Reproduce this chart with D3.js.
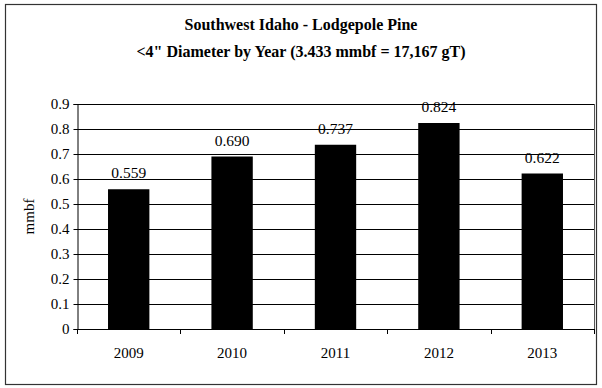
<!DOCTYPE html>
<html><head><meta charset="utf-8">
<script src="https://cdn.jsdelivr.net/npm/d3@7"></script>
<style>body{margin:0;background:#fff}svg{display:block}text{font-family:"Liberation Serif","Times New Roman",serif;fill:#000}</style>
</head><body>
<script>
const years = ["2009","2010","2011","2012","2013"];
const values = [0.559,0.690,0.737,0.824,0.622];
const yTicks = [0,0.1,0.2,0.3,0.4,0.5,0.6,0.7,0.8,0.9];
const titleLines = ["Southwest Idaho - Lodgepole Pine", "<4\" Diameter by Year (3.433 mmbf = 17,167 gT)"];
const yLabel = "mmbf";

const W=602,H=388;
const FF="Liberation Serif";
const svg=d3.select("body").append("svg").attr("width",W).attr("height",H);
svg.append("rect").attr("x",5.5).attr("y",4.5).attr("width",591).attr("height",380)
  .attr("fill","#fff").attr("stroke","#333").attr("stroke-width",1.2);

const L=77,R=594,T=104,B=329;
const x=d3.scaleBand().domain(years).range([L,R]).paddingInner(0.6).paddingOuter(0.3);
const xb=d3.scaleBand().domain(years).range([L,R]);
const y=d3.scaleLinear().domain([0,0.9]).range([B,T]);

// gridlines
svg.append("g").selectAll("line").data(yTicks.filter(d=>d>0)).join("line")
  .attr("x1",L).attr("x2",R).attr("y1",d=>Math.round(y(d))+0.5).attr("y2",d=>Math.round(y(d))+0.5)
  .attr("stroke","#000").attr("stroke-width",1);
// right border
svg.append("line").attr("x1",R+0.5).attr("x2",R+0.5).attr("y1",T).attr("y2",B).attr("stroke","#555");

// bars
svg.append("g").selectAll("rect").data(values).join("rect")
  .attr("x",(d,i)=>x(years[i])).attr("width",x.bandwidth())
  .attr("y",d=>y(d)).attr("height",d=>B-y(d)).attr("fill","#000");

// value labels
svg.append("g").selectAll("text").data(values).join("text")
  .attr("x",(d,i)=>x(years[i])+x.bandwidth()/2).attr("y",d=>y(d)-11)
  .attr("text-anchor","middle").attr("font-family",FF).attr("font-size","15.5px").text(d=>d.toFixed(3));

// y axis
const ya=svg.append("g").attr("transform",`translate(${L+0.5},0)`)
  .call(d3.axisLeft(y).tickValues(yTicks).tickSize(4).tickPadding(4).tickFormat(d=>d===0?"0":d3.format(".1f")(d)));
ya.select(".domain").attr("stroke","#000");
ya.selectAll(".tick line").attr("stroke","#000");
ya.selectAll("text").attr("font-size","15px").attr("font-family",FF);

// x axis
const xa=svg.append("g").attr("transform",`translate(0,${B+0.5})`)
  .call(d3.axisBottom(xb).tickSize(0).tickPadding(18));
xa.select(".domain").remove();
xa.selectAll("text").attr("font-size","15px").attr("font-family",FF);
svg.append("line").attr("x1",L).attr("x2",R+1).attr("y1",B+0.5).attr("y2",B+0.5).attr("stroke","#000");
const bounds=[L,...years.map(d=>xb(d)+xb.bandwidth())];
svg.append("g").selectAll("line").data(bounds).join("line")
  .attr("x1",d=>Math.round(d)+0.5).attr("x2",d=>Math.round(d)+0.5)
  .attr("y1",B).attr("y2",B+5).attr("stroke","#000");

// y label
svg.append("text").attr("transform",`translate(34,${(T+B)/2}) rotate(-90)`)
  .attr("text-anchor","middle").attr("font-family",FF).attr("font-size","15px").text(yLabel);

// title
svg.append("g").selectAll("text").data(titleLines).join("text")
  .attr("x",W/2).attr("y",(d,i)=>30+i*27).attr("text-anchor","middle").attr("font-family",FF)
  .attr("font-weight","bold").attr("font-size","16px").text(d=>d);
</script>
</body></html>
